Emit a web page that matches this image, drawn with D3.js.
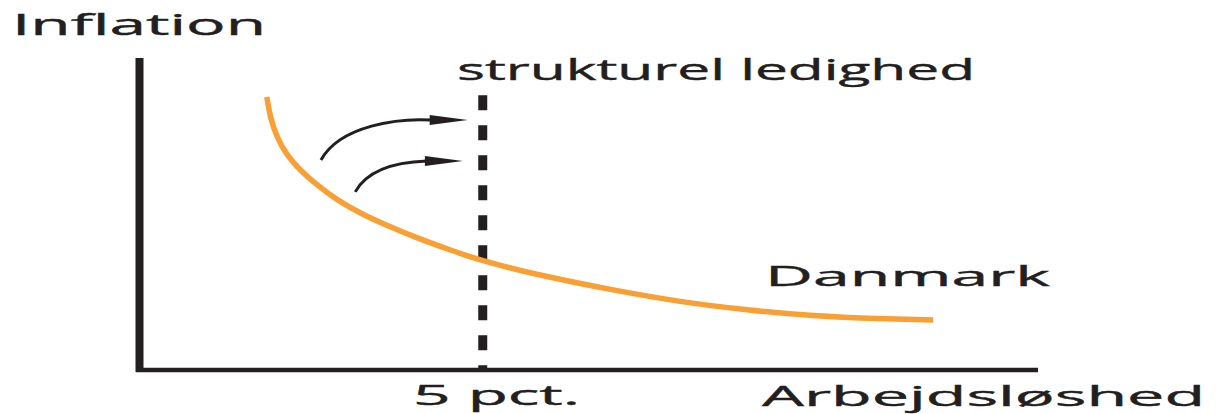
<!DOCTYPE html>
<html>
<head>
<meta charset="utf-8">
<style>
  html, body { margin: 0; padding: 0; background: #fff; }
  svg { display: block; }
  text { font-family: "Open Sans", "DejaVu Sans", sans-serif; fill: #231f20; stroke: #231f20; stroke-width: 0.4; }
</style>
</head>
<body>
<svg width="1216" height="414"></svg>
<script src="https://d3js.org/d3.v7.min.js"></script>
<script>
// Phillips curve for Denmark (unemployment in pct, inflation in arbitrary units)
var unemployment = [1.85, 1.90, 2.00, 2.14, 2.33, 2.58, 2.87, 3.21, 3.55, 4.04, 4.52, 4.99,
                    5.94, 6.90, 7.88, 8.86, 9.82, 10.80, 11.57];
var inflation    = [8.75, 8.08, 7.44, 6.89, 6.41, 5.93, 5.45, 5.03, 4.68, 4.23, 3.85, 3.49,
                    2.98, 2.56, 2.18, 1.92, 1.73, 1.64, 1.60];

// structural unemployment level
var structural = 5;
var structuralTop = 8.81;

// the two shift arrows: start, control1, control2, tip
var arrowUpper = [[2.64, 6.73], [2.92, 7.85], [3.79, 8.08], [4.78, 8.01]];
var arrowLower = [[3.14, 5.71], [3.33, 6.47], [3.79, 6.67], [4.71, 6.70]];

var labels = {
  yTitle: "Inflation",
  xTitle: "Arbejdsløshed",
  vline: "strukturel ledighed",
  curve: "Danmark",
  tick: "5 pct."
};

var svg = d3.select("svg");

var x = d3.scaleLinear().domain([0, 13.1]).range([140, 1038]);
var y = d3.scaleLinear().domain([0, 10]).range([370, 58]);

var ink = "#231f20", orange = "#f99f33";

// axes
svg.append("line")
    .attr("x1", x(0) - 0.5).attr("x2", x(0) - 0.5)
    .attr("y1", y(10)).attr("y2", y(0) + 2)
    .attr("stroke", ink).attr("stroke-width", 8);

svg.append("line")
    .attr("x1", x(0) - 4).attr("x2", x(13.1))
    .attr("y1", y(0)).attr("y2", y(0))
    .attr("stroke", ink).attr("stroke-width", 4.5);

// dashed structural line
svg.append("line")
    .attr("x1", x(structural)).attr("x2", x(structural))
    .attr("y1", y(structuralTop)).attr("y2", y(0))
    .attr("stroke", ink).attr("stroke-width", 9)
    .attr("stroke-dasharray", "15,15");

// curve
var pts = unemployment.map(function(d, i) { return [d, inflation[i]]; });
var line = d3.line()
    .x(function(d) { return x(d[0]); })
    .y(function(d) { return y(d[1]); })
    .curve(d3.curveBasis);

svg.append("path")
    .attr("d", line(pts))
    .attr("fill", "none")
    .attr("stroke", orange)
    .attr("stroke-width", 5.5);

// arrows
function drawArrow(a) {
  var s = a[0], c1 = a[1], c2 = a[2], tip = a[3];
  var headLen = 38, halfW = 5;
  var bx = x(tip[0]) - headLen, by = y(tip[1]);
  svg.append("path")
      .attr("d", "M" + x(s[0]) + "," + y(s[1]) +
                 "C" + x(c1[0]) + "," + y(c1[1]) + " " + x(c2[0]) + "," + y(c2[1]) + " " + (bx + 2) + "," + by)
      .attr("fill", "none").attr("stroke", ink).attr("stroke-width", 3);
  svg.append("path")
      .attr("d", "M" + x(tip[0]) + "," + by + "L" + bx + "," + (by - halfW) + "L" + bx + "," + (by + halfW) + "Z")
      .attr("fill", ink);
}
drawArrow(arrowUpper);
drawArrow(arrowLower);

// texts (stretched horizontally like the original)
function label(t, tx, ty, size, len) {
  svg.append("text")
      .attr("x", tx).attr("y", ty)
      .attr("font-size", size)
      .attr("textLength", len)
      .attr("lengthAdjust", "spacingAndGlyphs")
      .text(t);
}
label(labels.yTitle, 12, 35, 29, 254);
label(labels.vline, 457, 80, 29, 518);
label(labels.curve, 765, 286, 28, 285);
label(labels.xTitle, 762, 406, 28, 443);
label(labels.tick, 413, 405, 27, 167);
</script>
</body>
</html>
